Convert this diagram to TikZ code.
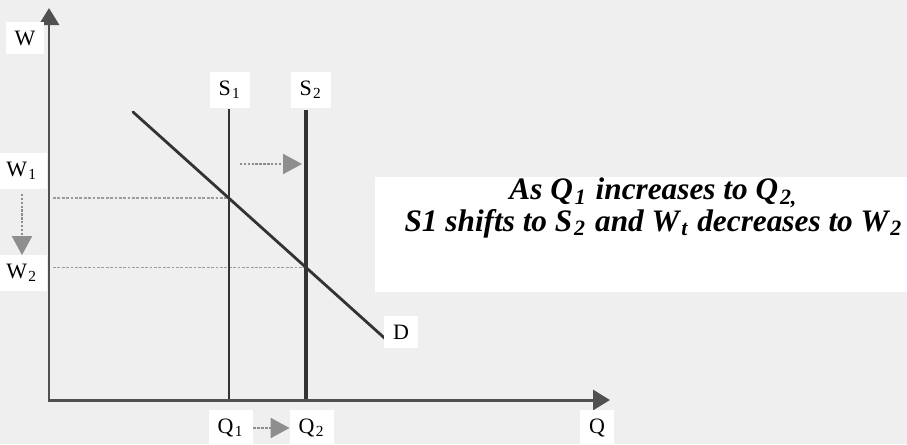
\documentclass[tikz,border=0pt]{standalone}
\usepackage{fontspec}
\setmainfont{Liberation Serif}
\usetikzlibrary{arrows.meta,positioning}
\definecolor{paperc}{HTML}{EFEFEF}
\definecolor{axisc}{HTML}{505050}
\definecolor{curvec}{HTML}{333333}
\definecolor{guidec}{HTML}{9C9C9C}
\definecolor{shiftc}{HTML}{8E8E8E}
\newcommand{\lowsub}[1]{\kern0.06em\textsubscript{#1}\kern0.04em\relax}
\tikzset{
  axis/.style={draw=axisc, line width=1.7pt, {Triangle[length=0.34cm,width=0.40cm]}-{Triangle[length=0.34cm,width=0.40cm]}},
  supply/.style={draw=curvec, line width=1.1pt},
  supplynew/.style={draw=curvec, line width=1.9pt},
  demand/.style={draw=curvec, line width=1.6pt, line cap=round},
  guide/.style={draw=guidec, line width=1.1pt, dash pattern=on 1.6pt off 0.9pt},
  shiftarrow/.style={draw=shiftc, line width=1.3pt, dash pattern=on 1.4pt off 0.8pt, -{Triangle[length=0.38cm,width=0.40cm]}},
  lbl/.style={fill=white, inner sep=5pt, font=\fontsize{12.5}{14}\selectfont},
  notebox/.style={fill=white, minimum width=10.64cm, minimum height=2.30cm, inner sep=0pt},
  note/.style={font=\fontsize{17.8}{16.8}\selectfont\bfseries\itshape, align=center, inner sep=0pt},
}
\begin{document}
\begin{tikzpicture}
\useasboundingbox (0,0) rectangle (18.14,8.88);
\fill[paperc] (0,0) rectangle (18.14,8.88);
\coordinate (O) at (0.98,0.88);
\coordinate (Wtop) at (0.98,8.72);
\coordinate (Qend) at (12.20,0.88);
\coordinate (S1top) at (4.58,6.70);
\coordinate (S1bot) at (4.58,0.88);
\coordinate (S2top) at (6.12,6.68);
\coordinate (S2bot) at (6.12,0.88);
\coordinate (Dtop) at (2.66,6.64);
\coordinate (Dend) at (7.80,2.02);
\coordinate (shiftrow) at (0,5.60);
\coordinate (eqone) at (intersection of Dtop--Dend and S1top--S1bot);
\coordinate (eqtwo) at (intersection of Dtop--Dend and S2top--S2bot);
\draw[guide] ([xshift=0.08cm]O |- eqone) -- (eqone);
\draw[guide] ([xshift=0.08cm]O |- eqtwo) -- (eqtwo);
\draw[supply] (S1top) -- (S1bot);
\draw[supplynew] (S2top) -- (S2bot);
\draw[demand] (Dtop) -- (Dend);
\draw[axis] (Wtop) -- (O) -- (Qend);
\draw[shiftarrow] ([xshift=0.22cm]S1top |- shiftrow) -- ([xshift=-0.08cm]S2top |- shiftrow);
\node[lbl] (lblW) at (0.50,8.12) {W};
\node[lbl] (lblWone) at (0.44,5.46) {W\lowsub{1}};
\node[lbl] (lblWtwo) at (0.44,3.42) {W\lowsub{2}};
\node[lbl] (lblSone) at (4.60,7.08) {S\lowsub{1}};
\node[lbl] (lblStwo) at (6.22,7.08) {S\lowsub{2}};
\node[lbl] (lblQone) at (4.62,0.32) {Q\lowsub{1}};
\node[lbl] (lblQtwo) at (6.24,0.32) {Q\lowsub{2}};
\node[lbl] (lblQ) at (11.94,0.32) {Q};
\node[lbl] (lblD) at (8.02,2.24) {D};
\draw[shiftarrow, shorten <=0.1cm] (lblWone) -- (lblWtwo);
\draw[shiftarrow] (lblQone) -- (lblQtwo);
\node[notebox] (board) at (12.82,4.19) {};
\node[note, below=0.02cm of board.north, xshift=0.26cm] (claim) {As Q\lowsub{1} increases to Q\lowsub{2,}\\ S1 shifts to S\lowsub{2} and W\lowsub{t} decreases to W\lowsub{2}};
\end{tikzpicture}
\end{document}
